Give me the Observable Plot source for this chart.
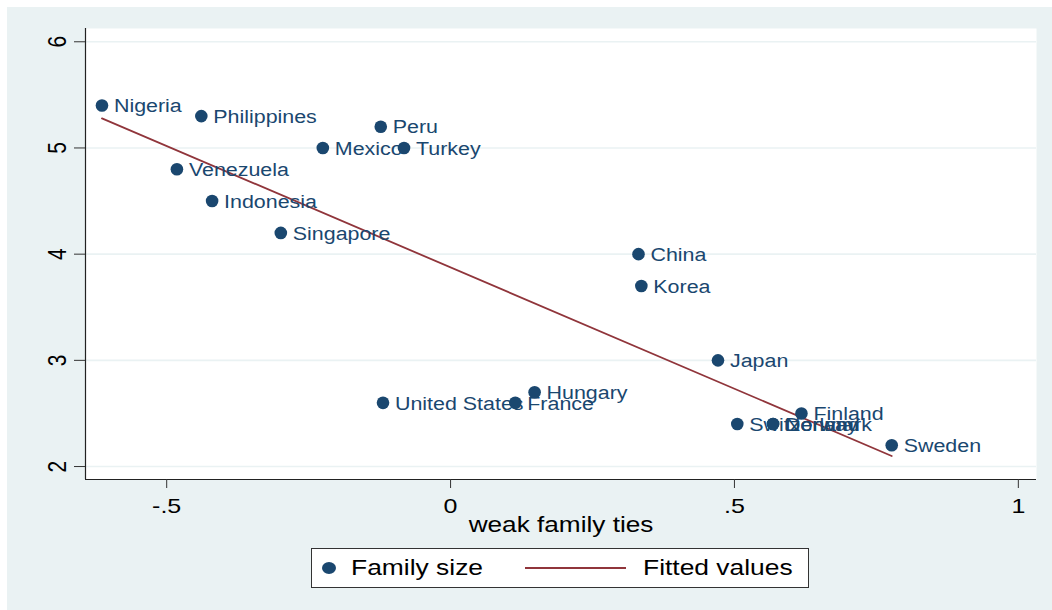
<!DOCTYPE html>
<html>
<head>
<meta charset="utf-8">
<script src="https://cdn.jsdelivr.net/npm/d3@7"></script>
<script src="https://cdn.jsdelivr.net/npm/@observablehq/plot@0.6"></script>
<style>
  html, body { margin: 0; padding: 0; background: #ffffff; width: 1052px; height: 610px; overflow: hidden; }
  #bg { position: absolute; left: 7px; top: 7px; right: 0; bottom: 0; background: #eaf2f3; }
  #chart { position: absolute; left: 0; top: 0; }
  #legend { position: absolute; left: 311px; top: 548px; width: 496px; height: 38px; background: #fff;
            border: 1.5px solid #333; font-family: "Liberation Sans", Arial, sans-serif; font-size: 22px; color: #000; }
  #legend .dot { position: absolute; left: 10px; top: 13px; width: 14px; height: 12px; border-radius: 50%; background: #1a476f; }
  #legend .t1, #legend .t2 { position: absolute; top: 6px; transform: scaleX(1.2); transform-origin: left center; white-space: nowrap; }
  #legend .t1 { left: 39px; }
  #legend .ln { position: absolute; left: 213px; top: 18px; width: 101px; height: 2px; background: #90353b; }
  #legend .t2 { left: 331px; }
</style>
</head>
<body>
<div id="bg"></div>
<div id="chart"></div>
<div id="legend"><div class="dot"></div><div class="t1">Family size</div><div class="ln"></div><div class="t2">Fitted values</div></div>
<script>
const countries = ["Nigeria","Philippines","Peru","Mexico","Turkey","Venezuela","Indonesia","Singapore",
  "China","Korea","Japan","Hungary","United States","France","Finland","Switzerland","Norway","Denmark","Sweden"];
const weakTies = [-0.614,-0.439,-0.123,-0.225,-0.082,-0.482,-0.420,-0.299,
  0.331,0.336,0.471,0.148,-0.119,0.114,0.618,0.505,0.568,0.568,0.777];
const familySize = [5.4,5.3,5.2,5.0,5.0,4.8,4.5,4.2,
  4.0,3.7,3.0,2.7,2.6,2.6,2.5,2.4,2.4,2.4,2.2];

const xTicks = [-0.5, 0, 0.5, 1];
const xTickLabels = ["-.5", "0", ".5", "1"];
const yTicks = [2, 3, 4, 5, 6];
const yTickLabels = ["2", "3", "4", "5", "6"];
const xTitle = "weak family ties";

const data = countries.map((c, i) => ({country: c, x: weakTies[i], y: familySize[i]}));

const xDomain = [-0.643, 1.032];
const yDomain = [1.878, 6.125];
const navy = "#1a476f";
const maroon = "#90353b";
const font = "Liberation Sans, Arial, sans-serif";

const chart = Plot.plot({
  width: 1052,
  height: 540,
  marginLeft: 85,
  marginRight: 16,
  marginTop: 28,
  marginBottom: 61,
  style: {background: "transparent", fontFamily: font, color: "#000"},
  x: {domain: xDomain},
  y: {domain: yDomain},
  marks: [
    Plot.frame({fill: "white", stroke: null}),
    Plot.gridY(yTicks, {stroke: "#eaf2f3", strokeOpacity: 1, strokeWidth: 1.6}),
    Plot.ruleX([xDomain[0]], {stroke: "#222", strokeWidth: 1.2}),
    Plot.ruleY([yDomain[0]], {stroke: "#222", strokeWidth: 1.2}),
    Plot.axisX(xTicks, {tickFormat: d => xTickLabels[xTicks.indexOf(d)], fontSize: 21, tickSize: 9, tickPadding: 10, stroke: "#333", label: null}),
    Plot.axisY(yTicks, {tickFormat: d => yTickLabels[yTicks.indexOf(d)], tickRotate: -90, fontSize: 21, tickSize: 11, tickPadding: 9, stroke: "#333", label: null}),
    Plot.text([xTitle], {frameAnchor: "bottom", dy: 45, fontSize: 22, fill: "#000", lineAnchor: "middle"}),
    Plot.linearRegressionY(data, {x: "x", y: "y", stroke: maroon, strokeWidth: 1.8, ci: 0}),
    Plot.dot(data, {x: "x", y: "y", r: 6.3, fill: navy, stroke: null}),
    Plot.text(data, {x: "x", y: "y", text: "country", textAnchor: "start", dx: 12, dy: 1, fontSize: 18, fill: navy})
  ]
});

// The reference picture is stretched horizontally (~1.2x); stretch the texts likewise,
// about each text's own anchor point.
const SX = 1.19;
chart.querySelectorAll("text").forEach(t => {
  const tr = t.getAttribute("transform") || "";
  const m = tr.match(/^\s*translate\(([^)]*)\)(.*)$/);
  if (m) {
    t.setAttribute("transform", `translate(${m[1]}) scale(${SX},1)${m[2]}`);
  } else {
    const xs = parseFloat(t.getAttribute("x"));
    const x0 = isFinite(xs) ? xs : 0;
    t.setAttribute("transform", `translate(${x0},0) scale(${SX},1) translate(${-x0},0) ${tr}`);
  }
});

document.getElementById("chart").appendChild(chart);
</script>
</body>
</html>
